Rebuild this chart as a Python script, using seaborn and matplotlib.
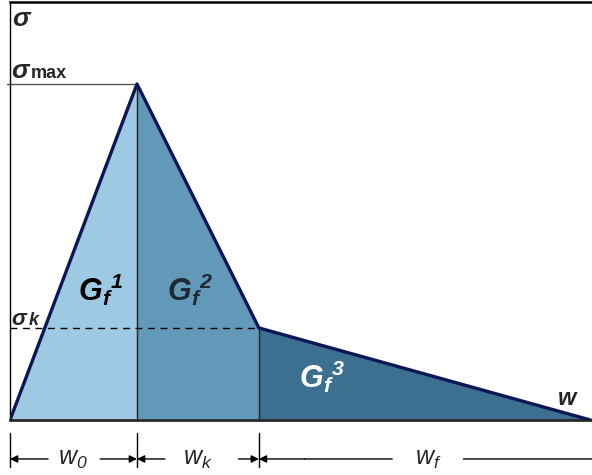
import seaborn as sns
import matplotlib.pyplot as plt
import pandas as pd

# Diagrama trilinear sigma-w (energia de fratura Gf = Gf1 + Gf2 + Gf3)
w0 = 1.0
wk = 0.96
wf = 2.61
sigma_max = 1.0
sigma_k = 0.274

w_pts = [0, w0, w0 + wk, w0 + wk + wf]
s_pts = [0, sigma_max, sigma_k, 0]
region_colors = ['#9ec9e2', '#6399b8', '#3b7090']
region_labels = ['$\\mathbf{G_f{}^1}$', '$\\mathbf{G_f{}^2}$', '$\\mathbf{G_f{}^3}$']
region_text_colors = ['black', '#1e2a33', 'white']

sns.set_style('white')
plt.rcParams['font.family'] = ['Liberation Sans', 'DejaVu Sans']
plt.rcParams['mathtext.fontset'] = 'custom'
plt.rcParams['mathtext.rm'] = 'Liberation Sans:italic'
plt.rcParams['mathtext.it'] = 'Liberation Sans:italic'
plt.rcParams['mathtext.bf'] = 'Liberation Sans:italic:bold'

fig = plt.figure(figsize=(5.92, 4.75), dpi=100)
ax = fig.add_axes([10 / 592, 55 / 475, 582 / 592, 418 / 475])

# areas
for i in range(3):
    ax.fill_between([w_pts[i], w_pts[i + 1]], [s_pts[i], s_pts[i + 1]], 0,
                    color=region_colors[i], lw=0, zorder=1)

# linhas internas
ax.plot([w0, w0], [0, sigma_max], color='#222222', lw=1, zorder=2)
ax.plot([w0 + wk, w0 + wk], [0, sigma_k], color='#222222', lw=1, zorder=2)
ax.plot([0, w0 + wk], [sigma_k, sigma_k], color='black', lw=1,
        ls=(0, (5, 4)), zorder=2)
ax.plot([-0.024, w0], [sigma_max, sigma_max], color='#555555', lw=1,
        zorder=2, clip_on=False)

# contorno
df = pd.DataFrame({'w': w_pts, 'sigma': s_pts})
sns.lineplot(x='w', y='sigma', data=df, sort=False, estimator=None,
             color='#0b1656', lw=2.4, ax=ax, zorder=3)

ax.set_xlim(0, 4.583)
ax.set_ylim(0, 1.244)
ax.set_xticks([])
ax.set_yticks([])
ax.set_xlabel('')
ax.set_ylabel('')
ax.spines['right'].set_visible(False)
ax.spines['top'].set_linewidth(1.8)
ax.spines['top'].set_color('black')
ax.spines['left'].set_linewidth(1)
ax.spines['left'].set_color('black')
ax.spines['bottom'].set_linewidth(2)
ax.spines['bottom'].set_color('#2a2a2a')

# textos
bi = dict(fontweight='bold', fontstyle='italic')
ax.text(0.016, 1.193, 'σ', fontsize=19, va='center', ha='left', **bi)
ax.text(0.008, 1.018, 'σ', fontsize=19, va='baseline', ha='left', **bi)
ax.text(0.16, 1.018, 'max', fontsize=13, va='baseline', ha='left',
        fontweight='bold')
ax.text(0.008, 0.283, 'σ', fontsize=16, va='baseline', ha='left', **bi)
ax.text(0.15, 0.283, 'k', fontsize=13, va='baseline', ha='left', **bi)

g_pos = [(0.709, 0.387), (1.417, 0.387), (2.457, 0.13)]
for (gx, gy), lab, tc in zip(g_pos, region_labels, region_text_colors):
    ax.text(gx, gy, lab, fontsize=22, color=tc, ha='center', va='center')

ax.text(4.386, 0.065, 'w', fontsize=17, ha='center', va='center', **bi)

# cotas
yd = -0.116
for xv in [0, w0, w0 + wk]:
    ax.plot([xv, xv], [-0.039, -0.140], color='black', lw=1, clip_on=False)

arrow = dict(arrowstyle='-|>', color='black', lw=1, mutation_scale=11,
             shrinkA=0, shrinkB=0)
line = dict(arrowstyle='-', color='black', lw=1, shrinkA=0, shrinkB=0)
for start, end in [(0.30, 0), (0.71, w0), (1.22, w0), (1.80, w0 + wk),
                   (2.32, w0 + wk)]:
    ax.annotate('', xy=(end, yd), xytext=(start, yd), arrowprops=arrow,
                annotation_clip=False)
ax.annotate('', xy=(3.01, yd), xytext=(2.32, yd), arrowprops=line,
            annotation_clip=False)
ax.annotate('', xy=(4.70, yd), xytext=(3.57, yd), arrowprops=line,
            annotation_clip=False)

for xv, lab in [(0.496, '$w_0$'), (1.48, '$w_k$'), (3.29, '$w_f$')]:
    ax.text(xv, yd, lab, fontsize=18, ha='center', va='center', clip_on=False)

plt.savefig('out.png', dpi=100)
